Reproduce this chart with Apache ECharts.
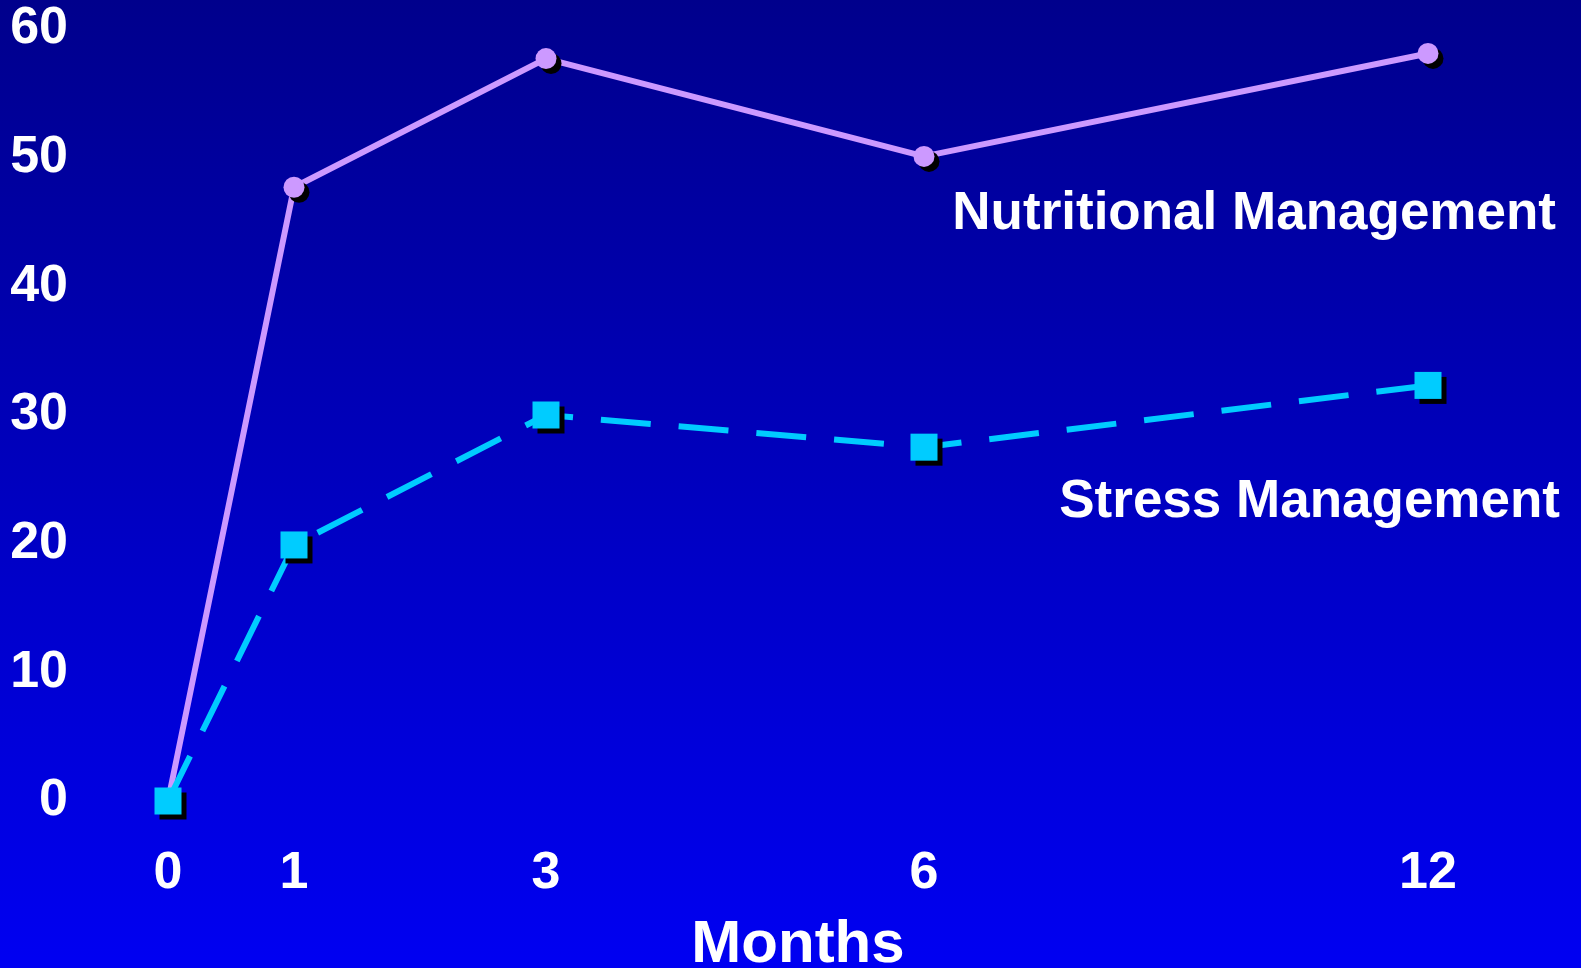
<!DOCTYPE html>
<html>
<head>
<meta charset="utf-8">
<title>Months</title>
<script src="https://cdn.jsdelivr.net/npm/echarts@6/dist/echarts.min.js"></script>
<style>
  html, body { margin: 0; padding: 0; width: 100%; height: 100%; overflow: hidden; }
  #chart { width: 1581px; height: 968px; }
</style>
</head>
<body>
<div id="chart"></div>
<script>
// Follow-up months and where each sits along the horizontal axis
const monthLabels = ['0', '1', '3', '6', '12'];
const monthPos = [0, 1, 3, 6, 10];

// Series values at each follow-up
const nutritional = [0, 47.7, 57.7, 50.1, 58.1];
const stress = [0, 19.9, 30.0, 27.5, 32.3];

const seriesNames = ['Nutritional Management', 'Stress Management'];

const FONT = '"Liberation Sans", Arial, Helvetica, sans-serif';

const toPoints = vals => vals.map((v, i) => [monthPos[i], v]);

const chart = echarts.init(document.getElementById('chart'), null, { renderer: 'canvas' });

const markerShadow = {
  shadowColor: '#000000',
  shadowBlur: 0,
  shadowOffsetX: 5,
  shadowOffsetY: 5
};

chart.setOption({
  animation: false,
  backgroundColor: {
    type: 'linear', x: 0, y: 0, x2: 0, y2: 1,
    colorStops: [
      { offset: 0, color: '#00008c' },
      { offset: 1, color: '#0000f2' }
    ]
  },
  grid: {
    left: 168, right: 153, top: 29, bottom: 167,
    containLabel: false,
    outerBoundsMode: 'none'
  },
  xAxis: {
    type: 'value',
    min: 0,
    max: 10,
    name: 'Months',
    nameLocation: 'middle',
    nameGap: 114,
    nameTextStyle: { color: '#ffffff', fontSize: 60, fontWeight: 'bold', fontFamily: FONT },
    axisLine: { show: false },
    axisTick: { show: false },
    splitLine: { show: false },
    axisLabel: {
      customValues: monthPos,
      formatter: v => monthLabels[monthPos.indexOf(v)] ?? '',
      color: '#ffffff',
      fontSize: 52,
      fontWeight: 'bold',
      fontFamily: FONT,
      margin: 47
    }
  },
  yAxis: {
    type: 'value',
    min: 0,
    max: 60,
    interval: 10,
    axisLine: { show: false },
    axisTick: { show: false },
    splitLine: { show: false },
    axisLabel: {
      color: '#ffffff',
      fontSize: 52,
      fontWeight: 'bold',
      fontFamily: FONT,
      margin: 100
    }
  },
  series: [
    {
      name: seriesNames[0],
      type: 'line',
      data: toPoints(nutritional),
      symbol: 'circle',
      symbolSize: 21,
      clip: false,
      lineStyle: { color: '#cc99ff', width: 6 },
      itemStyle: Object.assign({ color: '#cc99ff' }, markerShadow),
      emphasis: { disabled: true }
    },
    {
      name: seriesNames[1],
      type: 'line',
      data: toPoints(stress),
      symbol: 'rect',
      symbolSize: 27,
      clip: false,
      lineStyle: { color: '#00ccff', width: 6, type: [50, 28] },
      itemStyle: Object.assign({ color: '#00ccff' }, markerShadow),
      emphasis: { disabled: true }
    }
  ],
  graphic: [
    {
      type: 'text',
      right: 25,
      top: 188,
      style: {
        text: seriesNames[0],
        fill: '#ffffff',
        font: 'bold 53px ' + FONT
      }
    },
    {
      type: 'text',
      right: 21,
      top: 476,
      style: {
        text: seriesNames[1],
        fill: '#ffffff',
        font: 'bold 53px ' + FONT
      }
    }
  ]
});
</script>
</body>
</html>
